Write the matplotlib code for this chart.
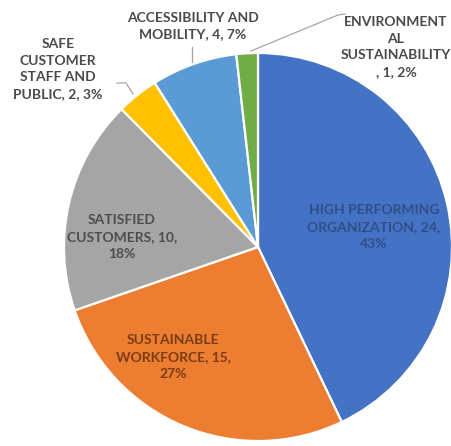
import matplotlib
matplotlib.use("Agg")
import matplotlib.pyplot as plt

# Strategic goal categories and their counts
names = [
    "HIGH PERFORMING\nORGANIZATION",
    "SUSTAINABLE\nWORKFORCE",
    "SATISFIED\nCUSTOMERS",
    "SAFE\nCUSTOMER\nSTAFF AND\nPUBLIC",
    "ACCESSIBILITY AND\nMOBILITY",
    "ENVIRONMENT\nAL\nSUSTAINABILITY",
]
values = [24, 15, 10, 1.95, 4, 1]
colors = ["#4472C4", "#ED7D31", "#A5A5A5", "#FFC000", "#5B9BD5", "#70AD47"]

# label layout: separator after name, separator after value, text position, colour
sep_name = [", ", ", ", ", ", ", ", ", ", "\n, "]
sep_value = [",\n", ",\n", ",\n", ", ", ", ", ", "]
label_xy = [(374, 227), (173, 357), (122, 237), (58, 69), (193, 26), (396, 47)]
label_colors = ["#2F4F86", "#7A3C12", "#4D4D4D", "#4A4A4A", "#4A4A4A", "#4A4A4A"]

W, H = 451, 446
fig = plt.figure(figsize=(W / 100, H / 100), dpi=100)
ax = fig.add_axes([0, 0, 1, 1])

cx, cy, r = 258, H - 247, 194
ax.pie(values, colors=colors, startangle=90, counterclock=False,
       center=(cx, cy), radius=r, frame=True,
       wedgeprops=dict(edgecolor="white", linewidth=1.6))
ax.set_xlim(0, W)
ax.set_ylim(0, H)
ax.set_aspect("equal")
ax.axis("off")

total = sum(values)
for name, v, sn, sv, (x, y), c in zip(names, values, sep_name, sep_value,
                                       label_xy, label_colors):
    text = f"{name}{sn}{v:.0f}{sv}{100 * v / total:.0f}%"
    ax.text(x, H - y, text, ha="center", va="center", multialignment="center",
            fontsize=10, family="Lato", fontweight="bold", color=c,
            linespacing=1.45)

# leader lines for the small outside labels
lc = "#A6A6A6"
ax.plot([117, 126, 133], [H - 83, H - 83, H - 94], color=lc, lw=0.9)
ax.plot([192, 192], [H - 47, H - 62], color=lc, lw=0.9)
ax.plot([251, 338, 345], [H - 51, H - 15, H - 14], color=lc, lw=0.9)

fig.savefig("out.png", dpi=100)
